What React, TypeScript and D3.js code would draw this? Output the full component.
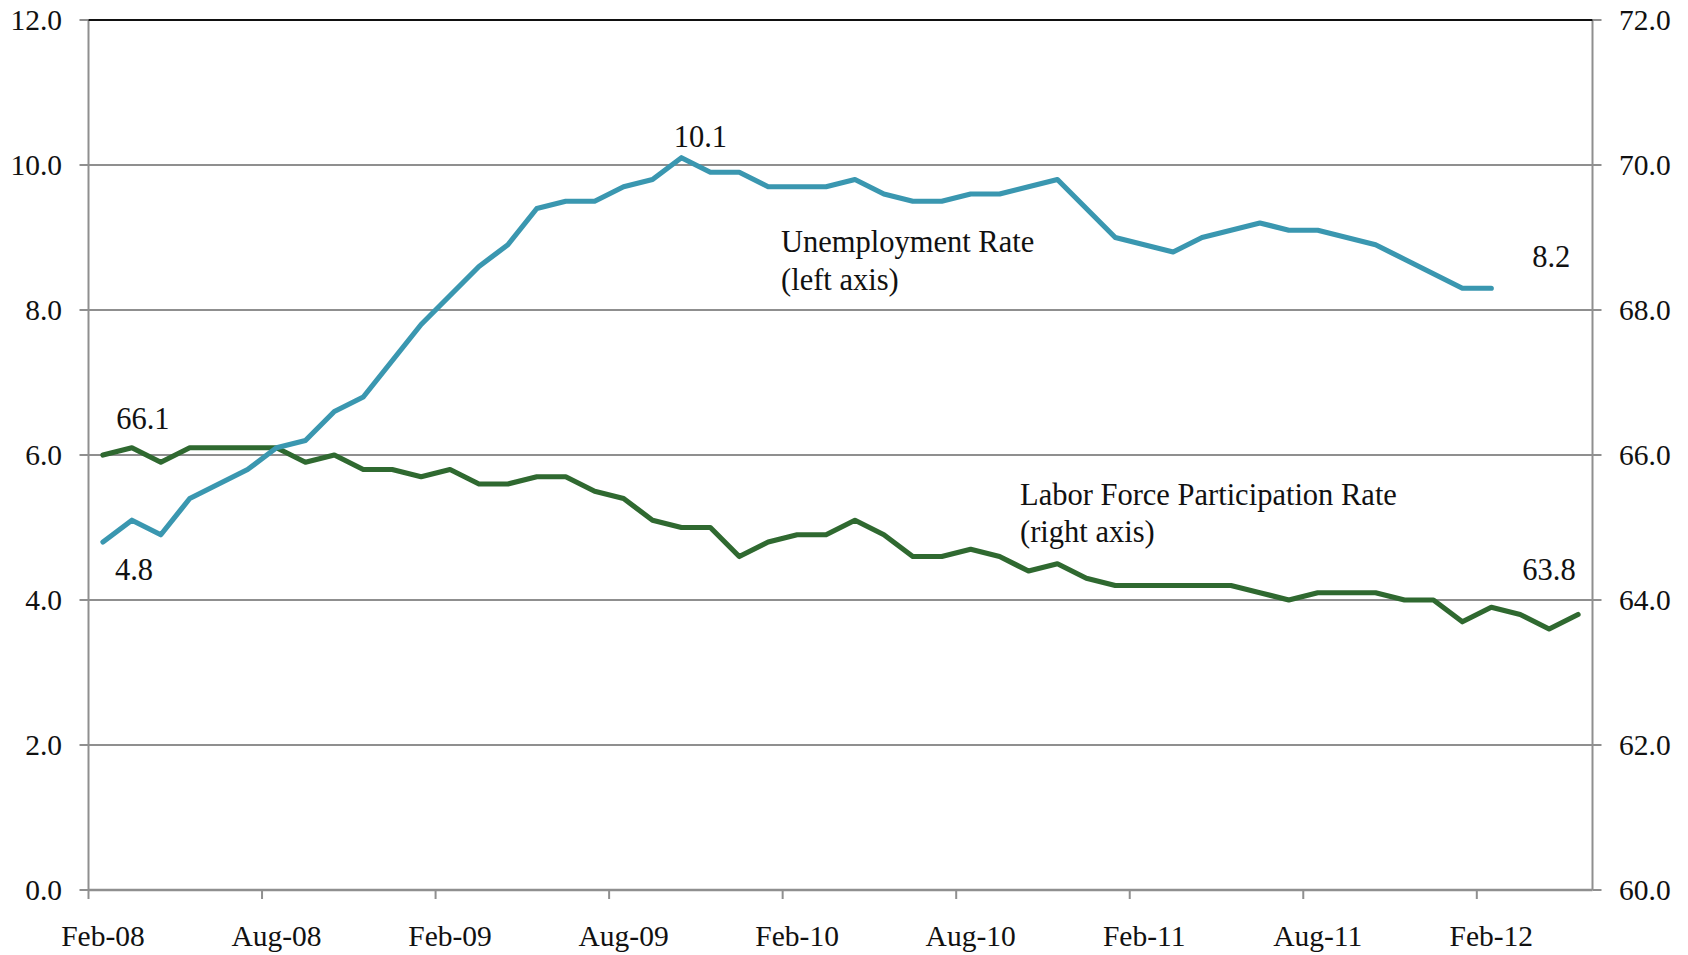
import React from "react";
import * as d3 from "d3";

const months = [
  "Feb-08","Mar-08","Apr-08","May-08","Jun-08","Jul-08","Aug-08","Sep-08","Oct-08","Nov-08","Dec-08",
  "Jan-09","Feb-09","Mar-09","Apr-09","May-09","Jun-09","Jul-09","Aug-09","Sep-09","Oct-09","Nov-09","Dec-09",
  "Jan-10","Feb-10","Mar-10","Apr-10","May-10","Jun-10","Jul-10","Aug-10","Sep-10","Oct-10","Nov-10","Dec-10",
  "Jan-11","Feb-11","Mar-11","Apr-11","May-11","Jun-11","Jul-11","Aug-11","Sep-11","Oct-11","Nov-11","Dec-11",
  "Jan-12","Feb-12","Mar-12","Apr-12","May-12",
];

const unemployment = [
  4.8, 5.1, 4.9, 5.4, 5.6, 5.8, 6.1, 6.2, 6.6, 6.8, 7.3,
  7.8, 8.2, 8.6, 8.9, 9.4, 9.5, 9.5, 9.7, 9.8, 10.1, 9.9, 9.9,
  9.7, 9.7, 9.7, 9.8, 9.6, 9.5, 9.5, 9.6, 9.6, 9.7, 9.8, 9.4,
  9.0, 8.9, 8.8, 9.0, 9.1, 9.2, 9.1, 9.1, 9.0, 8.9, 8.7, 8.5,
  8.3, 8.3,
];

const participation = [
  66.0, 66.1, 65.9, 66.1, 66.1, 66.1, 66.1, 65.9, 66.0, 65.8, 65.8,
  65.7, 65.8, 65.6, 65.6, 65.7, 65.7, 65.5, 65.4, 65.1, 65.0, 65.0, 64.6,
  64.8, 64.9, 64.9, 65.1, 64.9, 64.6, 64.6, 64.7, 64.6, 64.4, 64.5, 64.3,
  64.2, 64.2, 64.2, 64.2, 64.2, 64.1, 64.0, 64.1, 64.1, 64.1, 64.0, 64.0,
  63.7, 63.9, 63.8, 63.6, 63.8,
];

const leftTicks = [0, 2, 4, 6, 8, 10, 12];
const rightTicks = [60, 62, 64, 66, 68, 70, 72];
const xTickLabels = ["Feb-08","Aug-08","Feb-09","Aug-09","Feb-10","Aug-10","Feb-11","Aug-11","Feb-12"];

const W = 1688;
const H = 955;
const left = 88.5;
const right = 1592.5;
const top = 20;
const bottom = 890;

const FONT = "'Liberation Serif', 'Times New Roman', serif";
const BLUE = "#3a97b0";
const GREEN = "#2f6930";
const GRID = "#8f8f8f";

export default function App() {
  const x = d3.scaleBand<string>().domain(months).range([left, right]).padding(0);
  const bw = x.bandwidth();
  const cx = (m: string) => (x(m) as number) + bw / 2;
  const yL = d3.scaleLinear().domain([0, 12]).range([bottom, top]);
  const yR = d3.scaleLinear().domain([60, 72]).range([bottom, top]);

  const lineL = d3
    .line<number>()
    .x((_, i) => cx(months[i]))
    .y((d) => yL(d));
  const lineR = d3
    .line<number>()
    .x((_, i) => cx(months[i]))
    .y((d) => yR(d));

  const tickFont = 29.5;
  const annFont = 30.5;

  return (
    <svg
      width={W}
      height={H}
      style={{ position: "absolute", left: 0, top: 0, background: "#fff" }}
      fontFamily={FONT}
    >
      <rect x={0} y={0} width={W} height={H} fill="#fff" />
      {leftTicks.map((t) =>
        t === 0 || t === 12 ? null : (
          <line key={"g" + t} x1={left} x2={right} y1={yL(t)} y2={yL(t)} stroke={GRID} strokeWidth={2} />
        )
      )}
      {leftTicks.map((t) => (
        <line key={"lt" + t} x1={left - 9} x2={left} y1={yL(t)} y2={yL(t)} stroke={GRID} strokeWidth={2} />
      ))}
      {rightTicks.map((t) => (
        <line key={"rt" + t} x1={right} x2={right + 9} y1={yR(t)} y2={yR(t)} stroke={GRID} strokeWidth={2} />
      ))}
      {xTickLabels.map((m) => (
        <line key={"xt" + m} x1={x(m) as number} x2={x(m) as number} y1={bottom} y2={bottom + 9} stroke={GRID} strokeWidth={2} />
      ))}
      <line x1={left} x2={left} y1={top} y2={bottom} stroke={GRID} strokeWidth={2} />
      <line x1={right} x2={right} y1={top} y2={bottom} stroke={GRID} strokeWidth={2} />
      <line x1={left} x2={right} y1={bottom} y2={bottom} stroke={GRID} strokeWidth={2.5} />
      <line x1={left} x2={right} y1={top} y2={top} stroke="#111" strokeWidth={2} />

      {leftTicks.map((t) => (
        <text key={"ll" + t} x={62} y={yL(t) + 10} textAnchor="end" fontSize={tickFont} fill="#111">
          {t.toFixed(1)}
        </text>
      ))}
      {rightTicks.map((t) => (
        <text key={"rl" + t} x={1619} y={yR(t) + 10} textAnchor="start" fontSize={tickFont} fill="#111">
          {t.toFixed(1)}
        </text>
      ))}
      {xTickLabels.map((m) => (
        <text key={"xl" + m} x={cx(m)} y={946} textAnchor="middle" fontSize={tickFont} fill="#111">
          {m}
        </text>
      ))}

      <path d={lineR(participation) || ""} fill="none" stroke={GREEN} strokeWidth={5.2} strokeLinejoin="round" strokeLinecap="round" />
      <path d={lineL(unemployment) || ""} fill="none" stroke={BLUE} strokeWidth={5.2} strokeLinejoin="round" strokeLinecap="round" />

      <g fontSize={annFont} fill="#111">
        <text x={cx(months[1]) + 11} y={yR(participation[1]) - 19} textAnchor="middle">66.1</text>
        <text x={cx(months[0]) + 31} y={yL(unemployment[0]) + 38} textAnchor="middle">4.8</text>
        <text x={cx(months[20]) + 19} y={yL(unemployment[20]) - 11} textAnchor="middle">10.1</text>
        <text x={cx(months[48]) + 60} y={yL(unemployment[48]) - 21} textAnchor="middle">8.2</text>
        <text x={cx(months[51]) - 29} y={yR(participation[51]) - 34.5} textAnchor="middle">63.8</text>
        <text x={781} y={252}>Unemployment Rate</text>
        <text x={781} y={289.5}>(left axis)</text>
        <text x={1020} y={505}>Labor Force Participation Rate</text>
        <text x={1020} y={542}>(right axis)</text>
      </g>
    </svg>
  );
}
